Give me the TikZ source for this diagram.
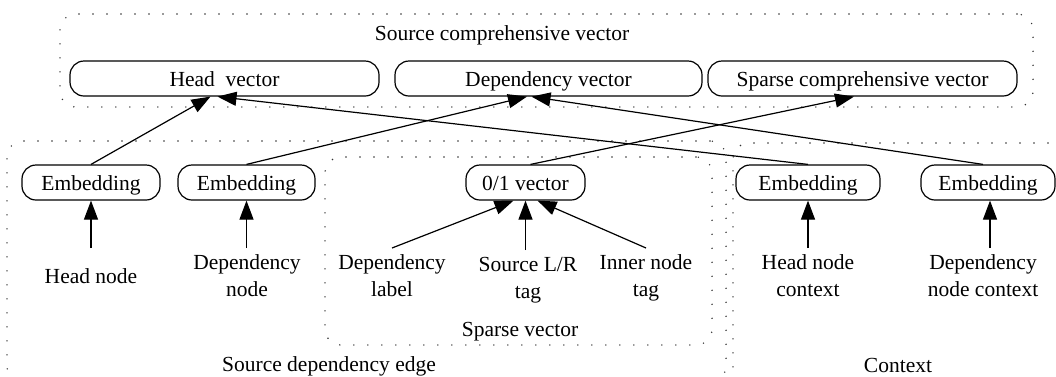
\documentclass[tikz,border=0pt]{standalone}
\usepackage{fontspec}
\setmainfont{Liberation Serif}
\usetikzlibrary{arrows.meta}
\newcommand\labfont{\fontsize{21.5}{27}\selectfont}
\begin{document}
\begin{tikzpicture}[x=1pt,y=-1pt,
 vbox/.style={draw, line width=1.2pt, rounded corners=14pt, minimum height=35pt, text height=15pt, text depth=0pt, inner sep=0pt, font=\labfont},
 grp/.style={draw=black!80, line width=1.6pt, dash pattern=on 0pt off 14pt, line cap=round, rounded corners=16pt, inner sep=0pt},
 lbl/.style={font=\labfont, align=center, inner sep=0pt, minimum height=54pt, outer ysep=3pt},
 captxt/.style={font=\labfont, inner sep=0pt, anchor=base},
 arr/.style={-{Triangle[length=19pt,width=14pt]}, line width=1.2pt}]
\useasboundingbox (0,0) rectangle (1056,376);
\clip (0,0) rectangle (1056,376);
% groups
\node[grp, minimum width=973pt, minimum height=93pt] (gtop) at (546.5,60.5) {};
\node[grp, minimum width=719pt, minimum height=241pt] (gsde) at (366.5,261.5) {};
\node[grp, minimum width=331pt, minimum height=241pt] (gctx) at (898.5,263.5) {};
\node[grp, minimum width=387pt, minimum height=188pt] (gspv) at (518.5,251) {};
% captions
\node[captxt] (tsrc) at (502,40) {Source comprehensive vector};
\node[captxt] (tspv) at (520,336) {Sparse vector};
\node[captxt] (tsde) at (329,371) {Source dependency edge};
\node[captxt] (tctx) at (898,372) {Context};
% vectors
\node[vbox, minimum width=309pt] (hv) at (224.5,78.5) {Head\ \ vector};
\node[vbox, minimum width=307pt] (dv) at (548.5,78.5) {Dependency vector};
\node[vbox, minimum width=309pt] (sv) at (862.5,78.5) {Sparse comprehensive vector};
\node[vbox, minimum width=138pt] (e1) at (91,182.5) {Embedding};
\node[vbox, minimum width=137pt] (e2) at (246.5,182.5) {Embedding};
\node[vbox, minimum width=119pt] (v01) at (525.5,182.5) {0/1 vector};
\node[vbox, minimum width=144pt] (e3) at (808,182.5) {Embedding};
\node[vbox, minimum width=134pt] (e4) at (988,182.5) {Embedding};
% labels
\node[lbl] (hn) at (91,278) {Head node\strut};
\node[lbl] (dn) at (247,278) {Dependency\strut\\node\strut};
\node[lbl] (dl) at (392,278) {Dependency\strut\\label\strut};
\node[lbl] (sl) at (528,280) {Source L/R\strut\\tag\strut};
\node[lbl] (it) at (646,278) {Inner node\strut\\tag\strut};
\node[lbl] (hc) at (808,278) {Head node\strut\\context\strut};
\node[lbl] (dc) at (983,278) {Dependency\strut\\node context\strut};
% arrows
\draw[arr] (hn.north) -- (e1.south);
\draw[arr] (e2.south |- dn.north) -- (e2.south);
\draw[arr] (e3.south |- hc.north) -- (e3.south);
\draw[arr] ([xshift=2pt]e4.south |- dc.north) -- ([xshift=2pt]e4.south);
\draw[arr] (dl.north) -- ([xshift=-12pt]v01.south);
\draw[arr] (v01.south |- sl.north) -- (v01.south);
\draw[arr] (it.north) -- ([xshift=12pt]v01.south);
\draw[arr] (e1.north) -- ([xshift=-14pt]hv.south);
\draw[arr] (e3.north) -- ([xshift=-7pt]hv.south);
\draw[arr] (e2.north) -- ([xshift=-21.5pt]dv.south);
\draw[arr] ([xshift=-5pt]e4.north) -- ([xshift=-17pt]dv.south);
\draw[arr] ([xshift=5pt]v01.north) -- ([xshift=-8.5pt]sv.south);
\end{tikzpicture}
\end{document}
